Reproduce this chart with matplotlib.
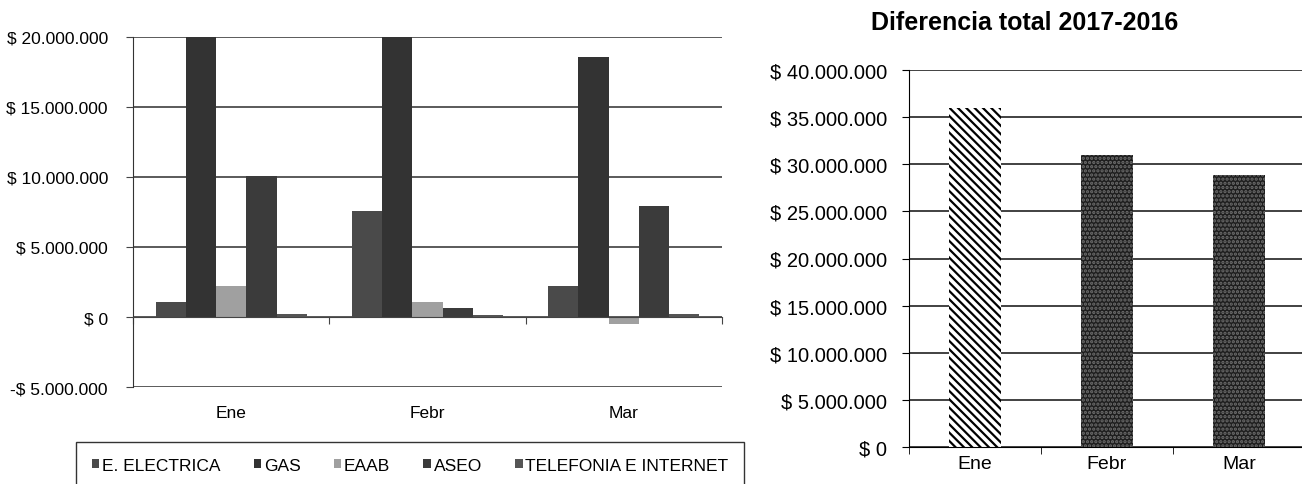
import matplotlib
matplotlib.use('Agg')
import matplotlib.pyplot as plt
import numpy as np
from matplotlib.patches import Patch
from matplotlib.ticker import FuncFormatter, MultipleLocator

plt.rcParams['font.family'] = ['Liberation Sans', 'DejaVu Sans']
plt.rcParams['hatch.linewidth'] = 1.6

# datos (diferencia 2017-2016 por servicio, en pesos)
meses = ['Ene', 'Febr', 'Mar']
servicios = ['E. ELECTRICA', 'GAS', 'EAAB', 'ASEO', 'TELEFONIA E INTERNET']
electrica = [1.1e6, 7.6e6, 2.2e6]
gas = [22.4e6, 21.5e6, 18.6e6]
eaab = [2.2e6, 1.1e6, -0.5e6]
aseo = [10.1e6, 0.65e6, 7.9e6]
telefonia = [0.2e6, 0.15e6, 0.2e6]
diferencia_total = [36.0e6, 31.0e6, 28.9e6]

colores = ['#4a4a4a', '#333333', '#a0a0a0', '#3b3b3b', '#555555']


def pesos(v, pos):
    s = f"{abs(v):,.0f}".replace(',', '.')
    return ('-' if v < 0 else '') + '$ ' + s


W, H = 1302, 485
fig = plt.figure(figsize=(W / 100, H / 100), dpi=100)

""" GRAFICO POR SERVICIO """
ax = fig.add_axes([133 / W, 1 - 388 / H, (722 - 133) / W, 350 / H])
x = np.arange(len(meses))
ancho = 0.154
series = [electrica, gas, eaab, aseo, telefonia]
for i, (vals, col) in enumerate(zip(series, colores)):
    ax.bar(x + (i - 2) * ancho, vals, ancho, color=col, linewidth=0)

ax.set_xlim(-0.5, 2.5)
ax.set_ylim(-5e6, 20e6)
ax.yaxis.set_major_locator(MultipleLocator(5e6))
ax.yaxis.set_major_formatter(FuncFormatter(pesos))
ax.grid(axis='y', color='#4d4d4d', linewidth=1.3)
ax.set_axisbelow(True)
for s in ['top', 'right']:
    ax.spines[s].set_visible(False)
ax.spines['bottom'].set_position(('data', 0))
ax.spines['bottom'].set_color('#444444')
ax.spines['left'].set_color('#333333')
ax.set_xticks(np.arange(-0.5, 3, 1))
ax.set_xticklabels([])
ax.tick_params(axis='x', direction='out', length=5, color='#444444')
ax.tick_params(axis='y', direction='out', length=5, pad=13, labelsize=12.5, color='#444444')
for i, m in enumerate(meses):
    ax.text(i, -0.072, m, transform=ax.get_xaxis_transform(), ha='center', va='center',
            fontsize=12.5)

handles = [Patch(facecolor=c, edgecolor='none') for c in colores]
fig.legend(handles, servicios, loc='upper left', bbox_to_anchor=(76 / W, 1 - 443 / H),
           ncol=5, fontsize=12.5, frameon=True, fancybox=False, edgecolor='black',
           handlelength=0.45, handleheight=0.45, handletextpad=0.15, columnspacing=1.9,
           borderpad=0.9, borderaxespad=0)

""" GRAFICO DIFERENCIA TOTAL """
ax2 = fig.add_axes([909 / W, 1 - 448 / H, (1305 - 909) / W, 377 / H])
barras = ax2.bar(x, diferencia_total, 0.40, linewidth=0)
barras[0].set_facecolor('white')
barras[0].set_edgecolor('black')
barras[0].set_hatch('\\\\\\\\')
for b in barras[1:]:
    b.set_facecolor('#1e1e1e')
    b.set_edgecolor('#6e6e6e')
    b.set_hatch('....')

ax2.set_xlim(-0.5, 2.5)
ax2.set_ylim(0, 40e6)
ax2.yaxis.set_major_locator(MultipleLocator(5e6))
ax2.yaxis.set_major_formatter(FuncFormatter(pesos))
ax2.grid(axis='y', color='#333333', linewidth=1.3)
ax2.set_axisbelow(True)
for s in ['top', 'right']:
    ax2.spines[s].set_visible(False)
ax2.set_xticks(x)
ax2.set_xticklabels(meses)
ax2.set_xticks(np.arange(-0.5, 3, 1), minor=True)
ax2.tick_params(axis='x', which='major', length=0, pad=6, labelsize=14)
ax2.tick_params(axis='x', which='minor', direction='out', length=5)
ax2.tick_params(axis='y', direction='out', length=5, pad=11, labelsize=14.5)

fig.text(1025 / W, 1 - 23 / H, 'Diferencia total 2017-2016', ha='center', va='center',
         fontsize=18, fontweight='bold')

fig.savefig('out.png', dpi=100)
